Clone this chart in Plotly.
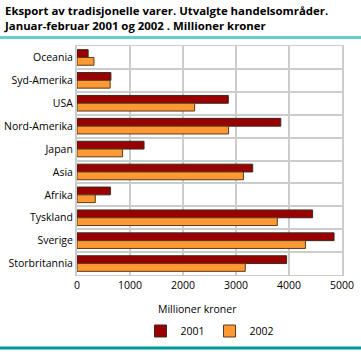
import plotly.graph_objects as go

categories = ["Oceania", "Syd-Amerika", "USA", "Nord-Amerika", "Japan", "Asia",
              "Afrika", "Tyskland", "Sverige", "Storbritannia"]
values_2001 = [210, 640, 2855, 3845, 1265, 3315, 630, 4445, 4850, 3955]
values_2002 = [320, 625, 2220, 2860, 860, 3140, 345, 3780, 4310, 3175]
series_names = ["2001", "2002"]
x_ticks = [0, 1000, 2000, 3000, 4000, 5000]

FONT = "Open Sans"
W, H = 361, 361
ml, mr, mt, mb = 77, 19, 46, 86
pw, ph = W - ml - mr, H - mt - mb


def py(px):
    """page pixel row -> paper y"""
    return 1 - (px - mt) / ph


fig = go.Figure()
fig.add_trace(go.Bar(y=categories, x=values_2001, name=series_names[0], orientation="h",
                     marker=dict(color="#990000", line=dict(color="#3a2a20", width=1))))
fig.add_trace(go.Bar(y=categories, x=values_2002, name=series_names[1], orientation="h",
                     marker=dict(color="#FF9933", line=dict(color="#5a3a1a", width=1))))

fig.update_layout(
    width=W, height=H,
    margin=dict(l=ml, r=mr, t=mt, b=mb, autoexpand=False),
    paper_bgcolor="white", plot_bgcolor="white",
    barmode="group", bargap=0.32, bargroupgap=0,
    font=dict(family=FONT, size=10.5, color="#000000"),
    showlegend=True,
    legend=dict(orientation="h", x=(210 - ml) / pw, xanchor="center",
                yref="container", y=1 - 331 / H, yanchor="middle",
                font=dict(size=10.5), traceorder="normal", itemwidth=30,
                bgcolor="rgba(0,0,0,0)"),
    xaxis=dict(range=[0, 5000], tickvals=x_ticks, showgrid=True, gridcolor="#cccccc",
               gridwidth=2, showline=True, linecolor="#cccccc", linewidth=1, mirror=True,
               zeroline=False, ticks="", tickfont=dict(size=10.5), automargin=False),
    yaxis=dict(autorange="reversed", type="category", tickson="boundaries",
               showgrid=True, gridcolor="#cccccc", gridwidth=2, showline=True,
               linecolor="#cccccc", linewidth=2, mirror=True, ticks="",
               tickfont=dict(size=10.5), automargin=False),
    shapes=[
        dict(type="line", xref="paper", yref="paper",
             x0=-ml / pw, x1=1 + mr / pw, y0=py(37.5), y1=py(37.5),
             line=dict(color="#66CCCC", width=3)),
        dict(type="line", xref="paper", yref="paper",
             x0=-ml / pw, x1=1 + mr / pw, y0=py(348), y1=py(348),
             line=dict(color="#009999", width=3)),
    ],
    annotations=[
        dict(text="<b>Eksport av tradisjonelle varer. Utvalgte handelsområder.</b><br>"
                  "<b>Januar-februar 2001 og 2002 . Millioner kroner</b>",
             xref="paper", yref="paper", x=-ml / pw + 2 / pw, y=py(1),
             xanchor="left", yanchor="top", align="left", showarrow=False,
             font=dict(family=FONT, size=11.4, color="#000000")),
        dict(text="Millioner kroner", xref="paper", yref="paper",
             x=(197 - ml) / pw, y=py(309), xanchor="center",
             yanchor="middle", showarrow=False, font=dict(family=FONT, size=10.5)),
    ],
)

fig.write_html("out.html", config={"displayModeBar": False},
               post_script="document.body.style.margin='0';")
